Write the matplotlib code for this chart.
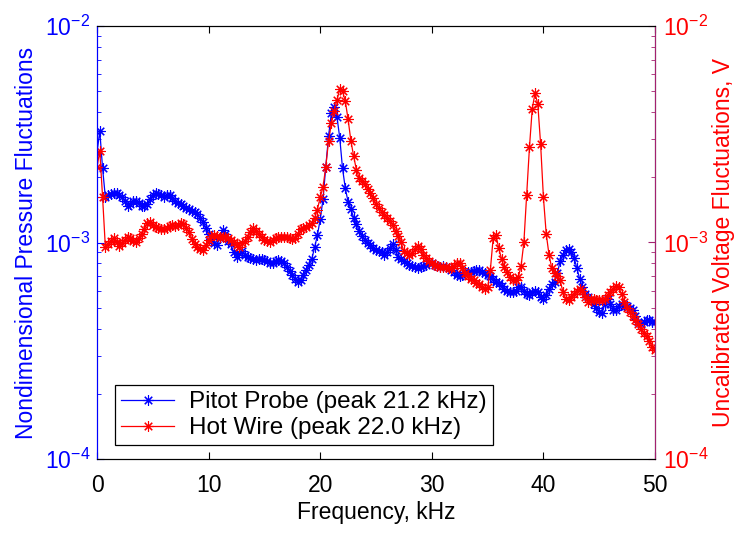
import numpy as np
import matplotlib
matplotlib.use("Agg")
import matplotlib.pyplot as plt
from matplotlib.ticker import LogLocator, NullFormatter

plt.rcParams["font.family"] = ["Liberation Sans", "DejaVu Sans"]
plt.rcParams["mathtext.fontset"] = "custom"
plt.rcParams["mathtext.rm"] = "Liberation Sans"
plt.rcParams["mathtext.it"] = "Liberation Sans:italic"

# spectra, in units of 1e-3, one row per kHz (0.25 kHz bins), last value at 50 kHz
pitot = [
    2.60, 3.27, 2.20, 1.62,   # 0
    1.65, 1.68, 1.70, 1.69,   # 1
    1.66, 1.62, 1.55, 1.47,   # 2
    1.50, 1.55, 1.56, 1.52,   # 3
    1.48, 1.47, 1.50, 1.58,   # 4
    1.66, 1.70, 1.68, 1.65,   # 5
    1.63, 1.66, 1.65, 1.60,   # 6
    1.55, 1.52, 1.50, 1.47,   # 7
    1.45, 1.43, 1.40, 1.38,   # 8
    1.35, 1.30, 1.24, 1.17,   # 9
    1.10, 1.04, 0.99, 0.97,   # 10
    1.05, 1.14, 1.10, 1.02,   # 11
    0.98, 0.90, 0.86, 0.89,   # 12
    0.91, 0.88, 0.86, 0.85,   # 13
    0.84, 0.83, 0.84, 0.84,   # 14
    0.83, 0.82, 0.80, 0.80,   # 15
    0.82, 0.83, 0.82, 0.80,   # 16
    0.77, 0.74, 0.71, 0.68,   # 17
    0.66, 0.67, 0.71, 0.75,   # 18
    0.79, 0.84, 0.95, 1.08,   # 19
    1.28, 1.58, 2.24, 3.10,   # 20
    3.96, 4.24, 3.81, 3.05,   # 21
    2.20, 1.78, 1.54, 1.43,   # 22
    1.30, 1.22, 1.13, 1.07,   # 23
    1.03, 0.99, 0.97, 0.94,   # 24
    0.92, 0.91, 0.90, 0.88,   # 25
    0.90, 0.94, 0.98, 0.92,   # 26
    0.86, 0.84, 0.82, 0.80,   # 27
    0.79, 0.78, 0.77, 0.76,   # 28
    0.77, 0.78, 0.79, 0.80,   # 29
    0.80, 0.79, 0.78, 0.77,   # 30
    0.78, 0.77, 0.76, 0.75,   # 31
    0.73, 0.71, 0.70, 0.71,   # 32
    0.73, 0.73, 0.73, 0.74,   # 33
    0.75, 0.75, 0.73, 0.72,   # 34
    0.71, 0.70, 0.68, 0.66,   # 35
    0.65, 0.63, 0.61, 0.60,   # 36
    0.59, 0.59, 0.60, 0.62,   # 37
    0.62, 0.60, 0.58, 0.57,   # 38
    0.59, 0.60, 0.59, 0.56,   # 39
    0.55, 0.57, 0.61, 0.64,   # 40
    0.66, 0.72, 0.82, 0.88,   # 41
    0.92, 0.93, 0.90, 0.85,   # 42
    0.76, 0.68, 0.62, 0.58,   # 43
    0.56, 0.54, 0.52, 0.50,   # 44
    0.48, 0.47, 0.52, 0.55,   # 45
    0.52, 0.49, 0.49, 0.51,   # 46
    0.52, 0.51, 0.51, 0.50,   # 47
    0.49, 0.46, 0.43, 0.42,   # 48
    0.43, 0.44, 0.44, 0.43,   # 49
    0.43,
]

hotwire = [
    2.23, 2.65, 1.62, 0.95,   # 0
    0.98, 1.02, 1.05, 1.00,   # 1
    0.96, 0.99, 1.03, 1.06,   # 2
    1.05, 1.02, 1.01, 1.05,   # 3
    1.10, 1.16, 1.23, 1.24,   # 4
    1.20, 1.18, 1.17, 1.16,   # 5
    1.15, 1.17, 1.19, 1.20,   # 6
    1.19, 1.21, 1.23, 1.22,   # 7
    1.17, 1.12, 1.04, 0.98,   # 8
    0.95, 0.93, 0.92, 0.97,   # 9
    1.03, 1.07, 1.08, 1.07,   # 10
    1.06, 1.06, 1.06, 1.05,   # 11
    1.03, 1.00, 0.97, 0.95,   # 12
    0.99, 1.02, 1.06, 1.12,   # 13
    1.17, 1.13, 1.09, 1.06,   # 14
    1.03, 1.02, 1.01, 1.03,   # 15
    1.05, 1.06, 1.06, 1.06,   # 16
    1.06, 1.05, 1.04, 1.05,   # 17
    1.10, 1.15, 1.17, 1.18,   # 18
    1.20, 1.23, 1.30, 1.42,   # 19
    1.62, 1.80, 2.24, 2.95,   # 20
    3.55, 4.05, 4.55, 5.10,   # 21
    5.00, 4.50, 3.70, 2.95,   # 22
    2.50, 2.16, 1.98, 1.93,   # 23
    1.86, 1.77, 1.70, 1.60,   # 24
    1.50, 1.44, 1.39, 1.34,   # 25
    1.30, 1.26, 1.20, 1.13,   # 26
    1.07, 1.00, 0.91, 0.89,   # 27
    0.88, 0.89, 0.93, 0.96,   # 28
    0.93, 0.88, 0.85, 0.82,   # 29
    0.80, 0.79, 0.78, 0.77,   # 30
    0.77, 0.77, 0.76, 0.76,   # 31
    0.78, 0.80, 0.80, 0.76,   # 32
    0.72, 0.70, 0.68, 0.67,   # 33
    0.65, 0.64, 0.62, 0.61,   # 34
    0.62, 0.75, 1.05, 1.08,   # 35
    0.94, 0.84, 0.77, 0.73,   # 36
    0.69, 0.67, 0.67, 0.69,   # 37
    0.78, 1.00, 1.65, 2.75,   # 38
    4.15, 4.90, 4.35, 2.85,   # 39
    1.62, 1.10, 0.88, 0.76,   # 40
    0.72, 0.70, 0.67, 0.59,   # 41
    0.55, 0.54, 0.56, 0.58,   # 42
    0.60, 0.61, 0.60, 0.56,   # 43
    0.53, 0.55, 0.55, 0.54,   # 44
    0.54, 0.54, 0.55, 0.57,   # 45
    0.59, 0.61, 0.63, 0.62,   # 46
    0.58, 0.53, 0.50, 0.48,   # 47
    0.46, 0.44, 0.42, 0.40,   # 48
    0.38, 0.37, 0.35, 0.33,   # 49
    0.32,
]

freq_step = 0.25  # kHz per bin
xticks = [0, 10, 20, 30, 40, 50]

blue = "#0000ff"
red = "#ff0000"
purple = "#a3216f"
fs = 16.5

pitot = np.array(pitot) * 1e-3
hotwire = np.array(hotwire) * 1e-3
f_p = np.arange(len(pitot)) * freq_step
f_h = np.arange(len(hotwire)) * freq_step

fig = plt.figure(figsize=(7.38, 5.35), dpi=100)
ax = fig.add_axes([97 / 738, 1 - 459 / 535, 558 / 738, 433 / 535])
ax2 = ax.twinx()

ast = (8, 2, 0)
l1, = ax.plot(f_p, pitot, "-", color=blue, lw=0.9, marker=ast, ms=7.5, mew=0.8)
l2, = ax2.plot(f_h, hotwire, "-", color=red, lw=0.9, marker=ast, ms=7.5, mew=0.8)

for a in (ax, ax2):
    a.set_yscale("log")
    a.set_ylim(1e-4, 1e-2)
    a.set_xlim(0, 50)
    a.yaxis.set_major_locator(LogLocator(base=10, numticks=5))
    a.yaxis.set_minor_locator(LogLocator(base=10, subs=np.arange(2, 10), numticks=10))
    a.yaxis.set_minor_formatter(NullFormatter())

ax.set_xticks(xticks)
ax.tick_params(axis="x", direction="in", top=True, length=5, labelsize=fs,
               colors="black", pad=11)
ax.tick_params(axis="y", which="both", direction="in", colors=blue, labelsize=fs, pad=5)
ax.tick_params(axis="y", which="major", length=5)
ax.tick_params(axis="y", which="minor", length=3)
ax2.tick_params(axis="y", which="both", direction="in", colors=purple, labelcolor=red,
                labelsize=fs, pad=6)
ax2.tick_params(axis="y", which="major", length=5)
ax2.tick_params(axis="y", which="minor", length=3)

ax.spines["left"].set_color(blue)
ax2.spines["left"].set_color(blue)
ax2.spines["right"].set_color(purple)
for a in (ax, ax2):
    a.spines["top"].set_color("black")
    a.spines["bottom"].set_color("black")

ax.set_xlabel("Frequency, kHz", fontsize=fs, labelpad=3)
ax.set_ylabel("Nondimensional Pressure Fluctuations", fontsize=fs, color=blue, labelpad=5)
ax2.set_ylabel("Uncalibrated Voltage Fluctuations, V", fontsize=fs, color=red,
               rotation=90, labelpad=2)

leg = ax2.legend([l1, l2], ["Pitot Probe (peak 21.2 kHz)", "Hot Wire (peak 22.0 kHz)"],
                 loc="lower left", bbox_to_anchor=(0.032, 0.032), borderaxespad=0,
                 fontsize=17.5, fancybox=False, framealpha=1, edgecolor="black",
                 handlelength=2.2, borderpad=0.25, labelspacing=0.15, handletextpad=0.6)
leg.get_frame().set_linewidth(0.9)

fig.savefig("out.png", dpi=100)
